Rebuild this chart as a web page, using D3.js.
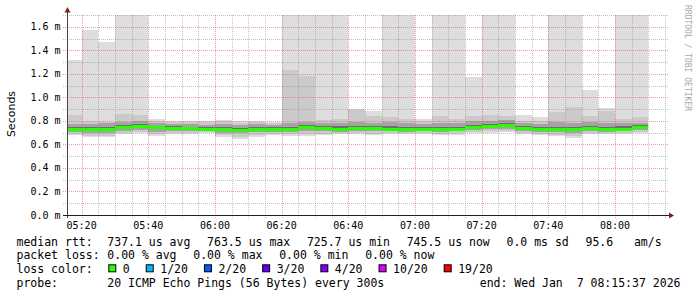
<!DOCTYPE html>
<html lang="en">
<head>
<meta charset="UTF-8">
<title>SmokePing latency</title>
<script src="https://d3js.org/d3.v7.min.js"></script>
<style>
  body { margin: 0; background: #fff; }
  svg { display: block; }
  text { white-space: pre; }
  .mono { font-family: "DejaVu Sans Mono", monospace; fill: #000; }
</style>
</head>
<body>
<svg width="697" height="297"></svg>
<script>
// 5 minute bins (end time, UTC, Wed Jan 7 2026), values in milliseconds
const binEnds = ["05:20","05:25","05:30","05:35","05:40","05:45","05:50","05:55","06:00",
  "06:05","06:10","06:15","06:20","06:25","06:30","06:35","06:40","06:45","06:50","06:55",
  "07:00","07:05","07:10","07:15","07:20","07:25","07:30","07:35","07:40","07:45","07:50",
  "07:55","08:00","08:05","08:10"];

// sorted ping ranks (1 = fastest, 20 = slowest) out of 20 pings
const pingMin = [0.680,0.662,0.660,0.690,0.695,0.675,0.690,0.690,0.695,0.666,0.645,0.666,0.680,0.670,0.670,0.680,0.685,0.685,0.680,0.690,0.685,0.685,0.680,0.682,0.695,0.700,0.705,0.690,0.680,0.670,0.652,0.685,0.685,0.685,0.695];
const ping2   = [0.690,0.675,0.672,0.700,0.705,0.690,0.700,0.698,0.702,0.680,0.665,0.680,0.690,0.685,0.685,0.692,0.695,0.695,0.692,0.700,0.695,0.695,0.692,0.694,0.705,0.710,0.716,0.700,0.692,0.684,0.668,0.695,0.694,0.695,0.705];
const ping5   = [0.705,0.698,0.700,0.715,0.722,0.708,0.712,0.712,0.712,0.700,0.695,0.702,0.708,0.705,0.710,0.710,0.708,0.712,0.710,0.712,0.708,0.710,0.706,0.710,0.722,0.728,0.735,0.714,0.708,0.705,0.698,0.710,0.708,0.710,0.720];
const ping8   = [0.715,0.712,0.718,0.735,0.742,0.728,0.726,0.722,0.720,0.715,0.712,0.716,0.720,0.718,0.728,0.725,0.722,0.726,0.724,0.724,0.720,0.720,0.717,0.722,0.738,0.745,0.750,0.728,0.720,0.718,0.715,0.726,0.718,0.722,0.734];
const median  = [0.728,0.728,0.735,0.750,0.757,0.745,0.740,0.737,0.730,0.727,0.7257,0.730,0.733,0.730,0.745,0.740,0.735,0.740,0.738,0.735,0.730,0.730,0.728,0.733,0.750,0.758,0.7635,0.740,0.730,0.730,0.728,0.740,0.728,0.735,0.7455];
const ping13  = [0.745,0.748,0.752,0.768,0.775,0.760,0.755,0.752,0.748,0.745,0.742,0.748,0.748,0.750,0.762,0.758,0.755,0.758,0.756,0.755,0.750,0.748,0.750,0.752,0.768,0.776,0.780,0.760,0.748,0.752,0.750,0.760,0.752,0.755,0.762];
const ping16  = [0.775,0.775,0.778,0.790,0.795,0.780,0.772,0.770,0.768,0.770,0.765,0.770,0.765,0.785,0.790,0.780,0.785,0.790,0.785,0.790,0.780,0.775,0.785,0.780,0.795,0.800,0.805,0.785,0.772,0.790,0.785,0.790,0.785,0.780,0.785];
const ping19  = [0.850,0.800,0.790,0.860,0.850,0.800,0.790,0.790,0.788,0.795,0.785,0.788,0.780,1.230,1.180,0.810,0.820,0.890,0.840,0.830,0.820,0.800,0.840,0.820,0.840,0.850,0.840,0.800,0.800,0.875,0.915,0.840,0.880,0.820,0.830];
const pingMax = [1.320,1.570,1.470,1.950,2.100,0.820,0.800,0.800,0.800,0.810,0.800,0.800,0.790,2.300,2.000,1.900,2.200,0.900,0.880,1.850,2.000,0.820,2.400,1.900,1.170,2.100,2.000,0.850,0.830,2.000,2.500,1.060,0.907,1.950,2.000];

const yTicks = [0, 0.2, 0.4, 0.6, 0.8, 1.0, 1.2, 1.4, 1.6];

const medianStats = ["737.1 us avg", "763.5 us max", "725.7 us min", "745.5 us now", "0.0 ms sd", "95.6   am/s"];
const lossStats = ["0.00 % avg", "0.00 % max", "0.00 % min", "0.00 % now"];
const lossLabels = ["0", "1/20", "2/20", "3/20", "4/20", "10/20", "19/20"];
const lossColors = ["#26ff00", "#00b8ff", "#0059ff", "#5e00ff", "#7e00ff", "#dd00ff", "#ff0000"];
const probeText = "20 ICMP Echo Pings (56 Bytes) every 300s";
const endText = "end: Wed Jan  7 08:15:37 2026";

const svg = d3.select("svg");
const plotLeft = 67, plotTop = 15, plotW = 600, plotH = 200;

const parseT = d3.utcParse("%Y-%m-%d %H:%M:%S");
const t0 = parseT("2026-01-07 05:15:37"), t1 = parseT("2026-01-07 08:15:37");

const x = d3.scaleUtc().domain([t0, t1]).range([plotLeft, plotLeft + plotW]);
const y = d3.scaleLinear().domain([0, 1.7]).range([plotTop + plotH, plotTop]);

svg.append("defs").append("clipPath").attr("id", "plot")
  .append("rect").attr("x", plotLeft).attr("y", plotTop).attr("width", plotW).attr("height", plotH);

const bins = binEnds.map((s, i) => {
  const end = parseT("2026-01-07 " + s + ":00");
  return { start: d3.utcMinute.offset(end, -5), end: end, i: i };
});

// smoke: outermost pair lightest, inner pairs darker
const layers = [
  [pingMin, pingMax, "#dddddd"],
  [ping2, ping19, "#cacaca"],
  [ping5, ping16, "#a4a4a4"],
  [ping8, ping13, "#6e6e6e"]
];

const smoke = svg.append("g").attr("clip-path", "url(#plot)").attr("shape-rendering", "crispEdges");
layers.forEach(([lo, hi, col]) => {
  smoke.append("g").selectAll("rect")
    .data(bins)
    .join("rect")
    .attr("x", d => x(d.start))
    .attr("width", d => x(d.end) - x(d.start))
    .attr("y", d => y(hi[d.i]))
    .attr("height", d => y(lo[d.i]) - y(hi[d.i]))
    .attr("fill", col);
});

// grid
const grid = svg.append("g").attr("shape-rendering", "crispEdges");
const minorY = d3.range(1, 18).map(v => v / 10).filter(v => Math.round(v * 10) % 2 === 1);
grid.selectAll("line.hmin").data(minorY).join("line")
  .attr("x1", plotLeft - 4).attr("x2", plotLeft + plotW + 1)
  .attr("y1", d => Math.round(y(d)) + 0.5).attr("y2", d => Math.round(y(d)) + 0.5)
  .attr("stroke", "rgba(143,143,143,0.55)").attr("stroke-dasharray", "1,1");
grid.selectAll("line.hmaj").data(yTicks.slice(1)).join("line")
  .attr("x1", plotLeft - 4).attr("x2", plotLeft + plotW + 1)
  .attr("y1", d => Math.round(y(d)) + 0.5).attr("y2", d => Math.round(y(d)) + 0.5)
  .attr("stroke", "rgba(222,79,79,0.55)").attr("stroke-dasharray", "1,1");

const minorX = x.ticks(d3.utcMinute.every(5)).filter(d => d.getUTCMinutes() % 20 !== 0);
const majorX = x.ticks(d3.utcMinute.every(20));
grid.selectAll("line.vmin").data(minorX).join("line")
  .attr("x1", d => Math.round(x(d)) + 0.5).attr("x2", d => Math.round(x(d)) + 0.5)
  .attr("y1", plotTop).attr("y2", plotTop + plotH + 3)
  .attr("stroke", "rgba(143,143,143,0.55)").attr("stroke-dasharray", "1,1");
grid.selectAll("line.vmaj").data(majorX).join("line")
  .attr("x1", d => Math.round(x(d)) + 0.5).attr("x2", d => Math.round(x(d)) + 0.5)
  .attr("y1", plotTop).attr("y2", plotTop + plotH + 3)
  .attr("stroke", "rgba(222,79,79,0.55)").attr("stroke-dasharray", "1,1");

// median line, coloured by loss (all 0 here)
svg.append("g").attr("clip-path", "url(#plot)").attr("shape-rendering", "crispEdges")
  .selectAll("rect").data(bins).join("rect")
  .attr("x", d => x(d.start))
  .attr("width", d => x(d.end) - x(d.start))
  .attr("y", d => Math.round(y(median[d.i])) - 1)
  .attr("height", 3)
  .attr("fill", lossColors[0]);

// axes
svg.append("line").attr("x1", plotLeft + 0.5).attr("x2", plotLeft + 0.5).attr("y1", plotTop + plotH + 3).attr("y2", 10)
  .attr("stroke", "#444");
svg.append("line").attr("x1", plotLeft - 4).attr("x2", plotLeft + plotW + 3).attr("y1", plotTop + plotH + 0.5).attr("y2", plotTop + plotH + 0.5)
  .attr("stroke", "#1f1f1f");
svg.append("path").attr("d", `M${plotLeft + 0.5},7 L${plotLeft - 2.5},12.5 L${plotLeft + 3.5},12.5 Z`).attr("fill", "#801f1f");
svg.append("path").attr("d", `M${plotLeft + plotW + 7},${plotTop + plotH + 0.5} L${plotLeft + plotW + 2},${plotTop + plotH - 2.5} L${plotLeft + plotW + 2},${plotTop + plotH + 3.5} Z`).attr("fill", "#801f1f");

// axis labels
svg.append("g").selectAll("text").data(yTicks).join("text")
  .attr("class", "mono").attr("font-size", 10)
  .attr("x", 60.5).attr("y", d => y(d) + 3.5)
  .attr("text-anchor", "end")
  .text(d => d3.format(".1f")(d) + " m");

const fmt = d3.utcFormat("%H:%M");
svg.append("g").selectAll("text").data(majorX).join("text")
  .attr("class", "mono").attr("font-size", 10)
  .attr("x", d => x(d)).attr("y", 229)
  .attr("text-anchor", "middle")
  .text(d => fmt(d));

svg.append("text")
  .attr("transform", "translate(15,114) rotate(-90)")
  .attr("text-anchor", "middle")
  .attr("font-family", "DejaVu Sans, sans-serif").attr("font-size", 11)
  .text("Seconds");

svg.append("text")
  .attr("transform", "translate(684.5,5) rotate(90)")
  .attr("class", "mono").attr("font-size", 8).style("fill", "#a8a8a8")
  .text("RRDTOOL / TOBI OETIKER");

// legend
const lg = svg.append("g").attr("class", "mono").attr("font-size", 11.5);
const rows = [245.5, 259.4, 273.3, 287.2];
const gap = 16.7;

function textRow(yy, label, items) {
  lg.append("text").attr("class", "mono").attr("x", 16.5).attr("y", yy).text(label);
  let xx = 107.3;
  items.forEach(s => {
    const t = lg.append("text").attr("class", "mono").attr("x", xx).attr("y", yy).text(s);
    xx += t.node().getComputedTextLength() + gap;
  });
}
textRow(rows[0], "median rtt:", medianStats);
textRow(rows[1], "packet loss:", lossStats);

lg.append("text").attr("class", "mono").attr("x", 16.5).attr("y", rows[2]).text("loss color:");
let bx = 108.3;
lossLabels.forEach((s, i) => {
  lg.append("rect").attr("x", bx + 0.5).attr("y", rows[2] - 8.5).attr("width", 7).attr("height", 7)
    .attr("fill", lossColors[i]).attr("stroke", "#000").attr("stroke-width", 1);
  const t = lg.append("text").attr("class", "mono").attr("x", bx + 14.5).attr("y", rows[2]).text(s);
  bx += 14.5 + t.node().getComputedTextLength() + 16;
});

lg.append("text").attr("class", "mono").attr("x", 16.5).attr("y", rows[3]).text("probe:");
lg.append("text").attr("class", "mono").attr("x", 107.3).attr("y", rows[3]).text(probeText);
lg.append("text").attr("class", "mono").attr("x", 680.5).attr("y", rows[3]).attr("text-anchor", "end").text(endText);
</script>
</body>
</html>
